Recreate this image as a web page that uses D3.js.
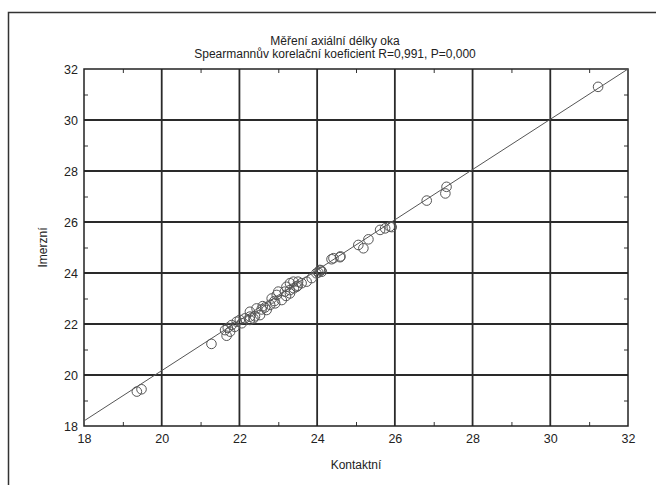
<!DOCTYPE html>
<html>
<head>
<meta charset="utf-8">
<script src="https://cdn.jsdelivr.net/npm/d3@7"></script>
<style>
  body { margin: 0; background: #fff; }
  text { font-family: "Liberation Sans", Arial, sans-serif; fill: #222; }
</style>
</head>
<body>
<div id="chart"></div>
<script>
// values
const kontaktni = [19.36, 19.48, 21.28, 21.63, 21.67, 21.7, 21.76, 21.8, 21.88, 21.93, 22.01, 22.06,
    22.14, 22.27, 22.27, 22.27, 22.36, 22.4, 22.44, 22.53, 22.57, 22.6, 22.66, 22.7, 22.79, 22.83,
    22.9, 22.92, 22.96, 23.0, 23.09, 23.17, 23.2, 23.21, 23.3, 23.3, 23.3, 23.39, 23.4, 23.47,
    23.5, 23.51, 23.6, 23.73, 23.86, 23.98, 24.03, 24.07, 24.1, 24.12, 24.37, 24.42, 24.59, 24.6,
    25.06, 25.19, 25.32, 25.62, 25.75, 25.87, 25.92, 26.82, 27.3, 27.33, 31.23];
const imerzni = [19.35, 19.44, 21.22, 21.76, 21.54, 21.85, 21.7, 21.96, 21.89, 22.09, 22.16, 22.03,
    22.22, 22.29, 22.48, 22.16, 22.22, 22.3, 22.61, 22.35, 22.57, 22.7, 22.65, 22.55, 22.75, 23.0,
    22.9, 22.81, 23.14, 23.27, 22.94, 23.27, 23.1, 23.46, 23.6, 23.33, 23.2, 23.66, 23.4, 23.46,
    23.5, 23.66, 23.6, 23.66, 23.8, 23.99, 24.02, 24.12, 24.1, 24.05, 24.54, 24.58, 24.62, 24.65,
    25.1, 24.97, 25.32, 25.69, 25.75, 25.82, 25.8, 26.84, 27.12, 27.38, 31.3];
const fitX = [18, 32];
const fitY = [18.2, 32];
const majorTicks = [18, 20, 22, 24, 26, 28, 30, 32];
const minorTicks = [19, 21, 23, 25, 27, 29, 31];
const title = ["Měření axiální délky oka", "Spearmannův korelační koeficient R=0,991, P=0,000"];

const width = 656, height = 485;
const pLeft = 84, pRight = 628, pTop = 69, pBottom = 426;

const svg = d3.select('#chart')
    .append('svg')
    .attr('width', width)
    .attr('height', height);

// outer frame (only left and top edges are visible)
svg.append('path')
    .attr('d', `M8.5,${height} V12.5 H${width}`)
    .attr('fill', 'none')
    .attr('stroke', '#333')
    .attr('stroke-width', 1.5);

const x = d3.scaleLinear().domain([18, 32]).range([pLeft, pRight]);
const y = d3.scaleLinear().domain([18, 32]).range([pBottom, pTop]);

// grid
svg.append('g')
    .selectAll('line')
    .data(majorTicks.slice(1, -1))
    .join('line')
    .attr('x1', d => x(d)).attr('x2', d => x(d))
    .attr('y1', pTop).attr('y2', pBottom)
    .attr('stroke', '#2a2a2a')
    .attr('stroke-width', 1.8);

svg.append('g')
    .selectAll('line')
    .data(majorTicks.slice(1, -1))
    .join('line')
    .attr('y1', d => y(d)).attr('y2', d => y(d))
    .attr('x1', pLeft).attr('x2', pRight)
    .attr('stroke', '#2a2a2a')
    .attr('stroke-width', 1.8);

// minor ticks, inward on all four sides
const minorAxes = [
    [d3.axisBottom(x), `translate(0,${pBottom})`],
    [d3.axisTop(x), `translate(0,${pTop})`],
    [d3.axisLeft(y), `translate(${pLeft},0)`],
    [d3.axisRight(y), `translate(${pRight},0)`]
];
minorAxes.forEach(([ax, tr]) => {
    const g = svg.append('g')
        .attr('transform', tr)
        .call(ax.tickValues(minorTicks).tickSize(-4).tickFormat(''));
    g.select('.domain').remove();
    g.selectAll('line').attr('stroke', '#333');
});

// plot frame
svg.append('rect')
    .attr('x', pLeft).attr('y', pTop)
    .attr('width', pRight - pLeft).attr('height', pBottom - pTop)
    .attr('fill', 'none')
    .attr('stroke', '#222')
    .attr('stroke-width', 1.5);

// tick labels
const xAxis = svg.append('g')
    .attr('transform', `translate(0,${pBottom})`)
    .call(d3.axisBottom(x).tickValues(majorTicks).tickSize(0).tickPadding(8));
xAxis.select('.domain').remove();

const yAxis = svg.append('g')
    .attr('transform', `translate(${pLeft},0)`)
    .call(d3.axisLeft(y).tickValues(majorTicks).tickSize(0).tickPadding(6));
yAxis.select('.domain').remove();

svg.selectAll('.tick text')
    .style('font-family', '"Liberation Sans", Arial, sans-serif')
    .style('font-size', '12.5px')
    .attr('fill', '#222');

// fit line
svg.append('line')
    .attr('x1', x(fitX[0])).attr('y1', y(fitY[0]))
    .attr('x2', x(fitX[1])).attr('y2', y(fitY[1]))
    .attr('stroke', '#555')
    .attr('stroke-width', 1);

// points
svg.append('g')
    .selectAll('circle')
    .data(kontaktni)
    .join('circle')
    .attr('cx', d => x(d))
    .attr('cy', (d, i) => y(imerzni[i]))
    .attr('r', 4.8)
    .attr('fill', 'none')
    .attr('stroke', '#555')
    .attr('stroke-width', 1);

// titles
svg.append('text')
    .attr('x', 335).attr('y', 45)
    .attr('text-anchor', 'middle')
    .style('font-size', '12px')
    .text(title[0]);
svg.append('text')
    .attr('x', 335).attr('y', 58)
    .attr('text-anchor', 'middle')
    .style('font-size', '12px')
    .text(title[1]);

svg.append('text')
    .attr('x', (pLeft + pRight) / 2).attr('y', 469)
    .attr('text-anchor', 'middle')
    .style('font-size', '12px')
    .text('Kontaktní');

svg.append('text')
    .attr('transform', `translate(47,${(pTop + pBottom) / 2}) rotate(-90)`)
    .attr('text-anchor', 'middle')
    .style('font-size', '12px')
    .text('Imerzní');
</script>
</body>
</html>
